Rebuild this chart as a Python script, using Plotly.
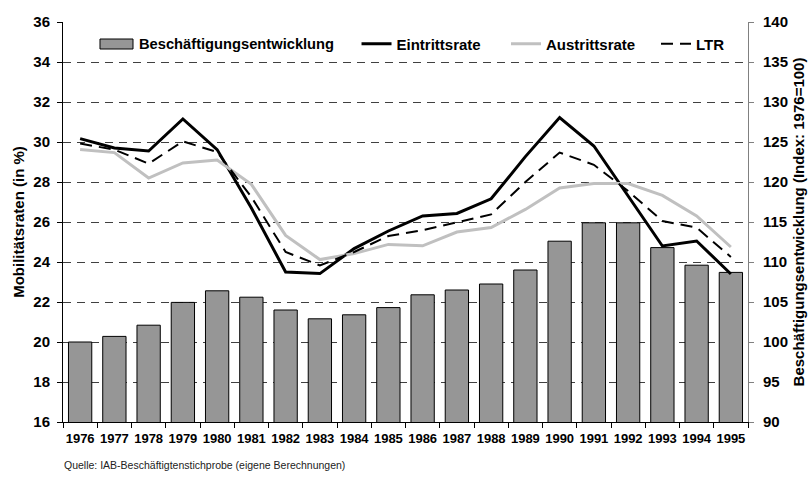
import plotly.graph_objects as go

years = [str(y) for y in range(1976, 1996)]
beschaeftigung = [100.0, 100.7, 102.1, 104.95, 106.4, 105.6, 104.0, 102.9, 103.4, 104.3,
                  105.9, 106.5, 107.25, 109.0, 112.6, 114.9, 114.9, 111.8, 109.6, 108.7]
eintrittsrate = [30.17, 29.7, 29.55, 31.15, 29.62, 26.7, 23.5, 23.42, 24.67, 25.55,
                 26.3, 26.43, 27.16, 29.27, 31.22, 29.8, 27.3, 24.8, 25.05, 23.4]
austrittsrate = [29.62, 29.47, 28.2, 28.95, 29.1, 27.88, 25.33, 24.12, 24.42, 24.88,
                 24.81, 25.5, 25.72, 26.63, 27.7, 27.92, 27.92, 27.33, 26.3, 24.75]
ltr = [29.92, 29.62, 28.92, 30.03, 29.5, 27.25, 24.5, 23.83, 24.5, 25.3,
       25.59, 25.97, 26.38, 28.0, 29.47, 28.86, 27.55, 26.05, 25.72, 24.25]

FONT = "Liberation Sans, Arial, sans-serif"
BAR_COLOR = "#969696"

fig = go.Figure()
fig.add_trace(go.Bar(x=years, y=beschaeftigung, name="Beschäftigungsentwicklung",
                     marker=dict(color=BAR_COLOR, line=dict(color="black", width=1)),
                     yaxis="y", showlegend=False))
fig.add_trace(go.Scatter(x=years, y=eintrittsrate, name="Eintrittsrate", mode="lines",
                         line=dict(color="black", width=3), yaxis="y2", legend="legend"))
fig.add_trace(go.Scatter(x=years, y=austrittsrate, name="Austrittsrate", mode="lines",
                         line=dict(color="#c0c0c0", width=3), yaxis="y2", legend="legend2"))
fig.add_trace(go.Scatter(x=years, y=ltr, name="LTR", mode="lines",
                         line=dict(color="black", width=2, dash="12px,7px"), yaxis="y2",
                         legend="legend3"))

leg_common = dict(orientation="h", y=0.945, xanchor="left", yanchor="middle",
                  bgcolor="rgba(0,0,0,0)", font=dict(size=15, weight="bold"))

fig.update_layout(
    width=810, height=477,
    margin=dict(l=63, r=62, t=22, b=55, autoexpand=False),
    paper_bgcolor="white", plot_bgcolor="white",
    font=dict(family=FONT, size=15, color="black", weight="bold"),
    bargap=0.32,
    showlegend=True,
    legend=dict(x=0.4285, **leg_common),
    legend2=dict(x=0.6467, **leg_common),
    legend3=dict(x=0.8657, **leg_common),
    xaxis=dict(type="category", showline=True, linecolor="black", linewidth=1,
               ticks="outside", tickson="boundaries", ticklen=5, tickcolor="black",
               showgrid=False, tickfont=dict(size=13, weight="bold"), tickangle=0,
               ticklabelstandoff=4, automargin=False),
    yaxis=dict(side="right", range=[90, 140], dtick=5, showline=True,
               linecolor="#808080", linewidth=1, ticks="outside", ticklen=5,
               tickcolor="#808080", showgrid=True, gridcolor="#404040", gridwidth=1,
               griddash="8px,6px", zeroline=False, automargin=False,
               tickfont=dict(size=15, weight="bold"), ticklabelstandoff=6,
               title=dict(text="Beschäftigungsentwicklung (Index: 1976=100)",
                          font=dict(size=15, weight="bold"), standoff=6)),
    yaxis2=dict(side="left", overlaying="y", range=[16, 36], dtick=2, showline=True,
                linecolor="black", linewidth=1, ticks="outside", ticklen=5,
                tickcolor="black", showgrid=False, zeroline=False, automargin=False,
                tickfont=dict(size=15, weight="bold"), ticklabelstandoff=4,
                title=dict(text="Mobilitätsraten (in %)",
                           font=dict(size=15, weight="bold"), standoff=5)),
    shapes=[dict(type="rect", xref="paper", yref="paper",
                 x0=0.054, x1=0.1022, y0=0.9325, y1=0.9575,
                 fillcolor=BAR_COLOR, line=dict(color="black", width=1))],
    annotations=[
        dict(text="Beschäftigungsentwicklung", xref="paper", yref="paper",
             x=0.108, y=0.945, xanchor="left", yanchor="middle", showarrow=False,
             font=dict(size=14.7, weight="bold")),
        dict(text="Quelle: IAB-Beschäftigtenstichprobe (eigene Berechnungen)",
             xref="paper", yref="paper", x=-0.002, y=-0.1075,
             xanchor="left", yanchor="middle", showarrow=False,
             font=dict(size=10.5, weight="normal", color="#222222")),
    ],
)

fig.write_html("out.html",
               config={"displayModeBar": False},
               post_script="document.body.style.margin='0px';"
                           "document.body.style.overflow='hidden';")
